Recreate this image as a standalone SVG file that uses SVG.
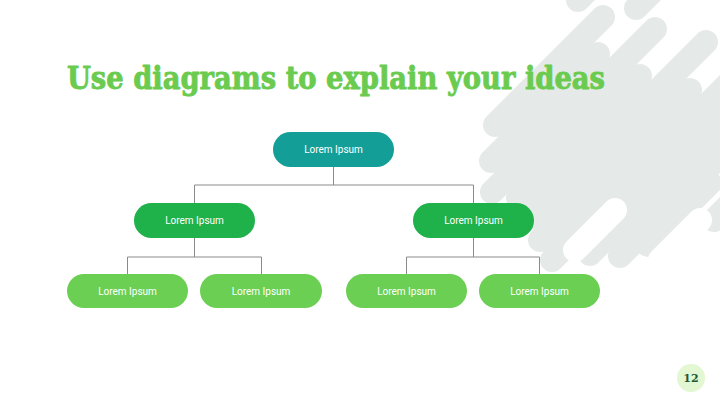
<svg xmlns="http://www.w3.org/2000/svg" width="720" height="405" viewBox="0 0 720 405">
  <style>
    .deco line { stroke: #e5eae8; stroke-width: 24; stroke-linecap: round; }
    .deco .cut { stroke: #ffffff; }
    .node text { font-family: Roboto, "Liberation Sans", sans-serif; font-size: 10px; fill: #ffffff; text-anchor: middle; dominant-baseline: central; }
    .conn line { stroke: #8a8a8a; stroke-width: 1; }
    .title { font-family: "DejaVu Serif", "Liberation Serif", serif; font-weight: bold; font-size: 32px; fill: #6acb4f; stroke: #6acb4f; stroke-width: 0.9; stroke-linejoin: round; }
  </style>
  <rect width="720" height="405" fill="#ffffff"/>

  <g class="deco">
    <line x1="495" y1="125" x2="603" y2="17"/>
    <line x1="491" y1="161" x2="598" y2="54"/>
    <line x1="492" y1="192" x2="655" y2="29"/>
    <line x1="518" y1="198" x2="640" y2="76"/>
    <line x1="530" y1="218" x2="706" y2="42"/>
    <line x1="540" y1="240" x2="690" y2="90"/>
    <line x1="552" y1="260" x2="740" y2="72"/>
    <line x1="590" y1="254" x2="740" y2="104"/>
    <line x1="620" y1="256" x2="740" y2="136"/>
    <line x1="648" y1="245" x2="710" y2="183"/>
    <line x1="714" y1="220" x2="740" y2="194"/>
    <line x1="578" y1="0" x2="600" y2="-22"/>
    <line x1="636" y1="8" x2="660" y2="-16"/>
    <line class="cut" x1="575" y1="250" x2="615" y2="210"/>
    <line class="cut" x1="660" y1="260" x2="700" y2="220"/>
  </g>

  <text class="title" x="67" y="89" textLength="538" lengthAdjust="spacingAndGlyphs">Use diagrams to explain your ideas</text>

  <g class="conn">
    <line x1="333.5" y1="167" x2="333.5" y2="185"/>
    <line x1="194.5" y1="185" x2="473.5" y2="185"/>
    <line x1="194.5" y1="185" x2="194.5" y2="203"/>
    <line x1="473.5" y1="185" x2="473.5" y2="203"/>
    <line x1="194.5" y1="238" x2="194.5" y2="257"/>
    <line x1="127.5" y1="257" x2="261.5" y2="257"/>
    <line x1="127.5" y1="257" x2="127.5" y2="274"/>
    <line x1="261.5" y1="257" x2="261.5" y2="274"/>
    <line x1="473.5" y1="238" x2="473.5" y2="257"/>
    <line x1="406.5" y1="257" x2="539.5" y2="257"/>
    <line x1="406.5" y1="257" x2="406.5" y2="274"/>
    <line x1="539.5" y1="257" x2="539.5" y2="274"/>
  </g>

  <g id="n-root" class="node">
    <rect x="273" y="132" width="121" height="35" rx="17.5" fill="#139e98"/>
    <text x="333.5" y="149.5">Lorem Ipsum</text>
  </g>
  <g id="n-mid-left" class="node">
    <rect x="134" y="203" width="121" height="35" rx="17.5" fill="#1fb14a"/>
    <text x="194.5" y="220.5">Lorem Ipsum</text>
  </g>
  <g id="n-mid-right" class="node">
    <rect x="413" y="203" width="121" height="35" rx="17.5" fill="#1fb14a"/>
    <text x="473.5" y="220.5">Lorem Ipsum</text>
  </g>
  <g id="n-leaf-1" class="node">
    <rect x="67" y="274" width="121" height="34" rx="17" fill="#6acf52"/>
    <text x="127.5" y="291">Lorem Ipsum</text>
  </g>
  <g id="n-leaf-2" class="node">
    <rect x="200" y="274" width="122" height="34" rx="17" fill="#6acf52"/>
    <text x="261" y="291">Lorem Ipsum</text>
  </g>
  <g id="n-leaf-3" class="node">
    <rect x="346" y="274" width="121" height="34" rx="17" fill="#6acf52"/>
    <text x="406.5" y="291">Lorem Ipsum</text>
  </g>
  <g id="n-leaf-4" class="node">
    <rect x="479" y="274" width="121" height="34" rx="17" fill="#6acf52"/>
    <text x="539.5" y="291">Lorem Ipsum</text>
  </g>

  <g id="page-number">
    <circle cx="691" cy="378" r="14" fill="#e2f7d2"/>
    <text x="691" y="382" font-family="'DejaVu Serif', serif" font-weight="bold" font-size="11" fill="#1c5a3a" text-anchor="middle">12</text>
  </g>
</svg>
